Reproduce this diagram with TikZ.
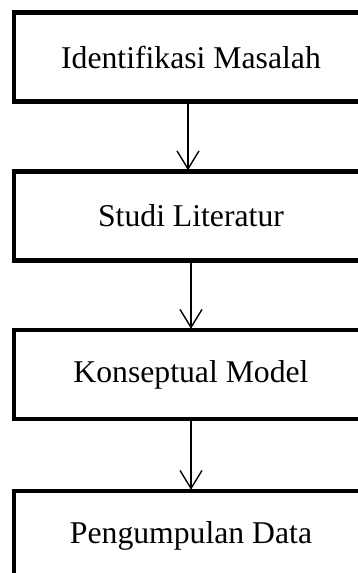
\documentclass[tikz,border=0pt]{standalone}
\usepackage{fontspec}
\setmainfont{Liberation Serif}
\usetikzlibrary{arrows.meta}
\begin{document}
\begin{tikzpicture}[x=1pt,y=-1pt,
  stepbox/.style={draw=black, line width=4.5pt, rectangle, minimum width=354pt,
    minimum height=89pt, inner sep=0pt, font=\fontsize{31.7}{38}\selectfont},
  flow/.style={draw=black, line width=1.4pt,
    -{Straight Barb[length=18pt,width=22pt,line width=1.4pt]}, shorten >=-1pt}]
\clip (0,0) rectangle (358,573);
\fill[white] (0,0) rectangle (358,573);
\node[stepbox] (b1) at (191,57) {Identifikasi Masalah};
\node[stepbox] (b2) at (191,216) {Studi Literatur};
\node[stepbox] (b3) at (191,374.5) {Konseptual Model};
\node[stepbox] (b4) at (191,535.5) {Pengumpulan Data};
\draw[flow] ([xshift=-3pt]b1.south) -- ([xshift=-3pt]b2.north);
\draw[flow] (b2.south) -- (b3.north);
\draw[flow] (b3.south) -- (b4.north);
\end{tikzpicture}
\end{document}
